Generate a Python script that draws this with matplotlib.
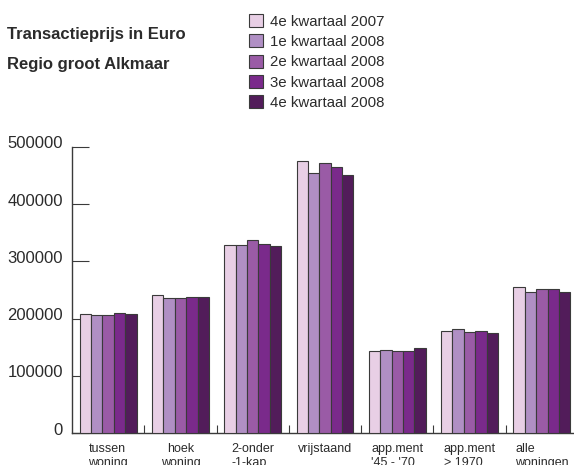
import matplotlib
matplotlib.use("Agg")
import matplotlib.pyplot as plt
import matplotlib.transforms as mtransforms
from matplotlib.patches import Patch

plt.rcParams['font.family'] = ['Liberation Sans', 'DejaVu Sans']

categories = ["tussen\nwoning", "hoek\nwoning", "2-onder\n-1-kap", "vrijstaand",
              "app.ment\n'45 - '70", "app.ment\n> 1970", "alle\nwoningen"]
periods = ["4e kwartaal 2007", "1e kwartaal 2008", "2e kwartaal 2008",
           "3e kwartaal 2008", "4e kwartaal 2008"]

q4_2007 = [207400, 241800, 328300, 476000, 143100, 177600, 254700]
q1_2008 = [205600, 236000, 328300, 454400, 144300, 181100, 247100]
q2_2008 = [205600, 236000, 337000, 471400, 143700, 177000, 251200]
q3_2008 = [210300, 237700, 330000, 465000, 143700, 177600, 251200]
q4_2008 = [208500, 237100, 327100, 450900, 147800, 174600, 246500]
series = [q4_2007, q1_2008, q2_2008, q3_2008, q4_2008]

colors = ["#e8cfe5", "#b08fc4", "#9a5ba6", "#7a2a8b", "#521c5a"]
edge = "#3a3a3a"
text_col = "#2b2b2b"

fig = plt.figure(figsize=(5.74, 4.65), dpi=100)
ax = fig.add_axes([72 / 574, 1 - 433 / 465, 506 / 574, 286 / 465])

bw = 0.1577
for i, vals in enumerate(series):
    xs = [g + 0.5 + (i - 2) * bw for g in range(len(categories))]
    ax.bar(xs, vals, width=bw, color=colors[i], edgecolor=edge, linewidth=0.8, zorder=3)

ax.set_xlim(0, 7)
ax.set_ylim(0, 500000)
ax.set_axisbelow(True)

ax.set_yticks([0, 100000, 200000, 300000, 400000, 500000])
ax.set_yticklabels(["0", "100000", "200000", "300000", "400000", "500000"])
ax.tick_params(axis='y', direction='in', length=12, width=0.8, color=edge,
               labelsize=12, labelcolor=text_col, pad=6.5)
# labels sit a little above their tick in the original
lift = mtransforms.ScaledTranslation(0, 3 / 100, fig.dpi_scale_trans)
for lbl in ax.get_yticklabels():
    lbl.set_verticalalignment('center')
    lbl.set_transform(lbl.get_transform() + lift)

ax.set_xticks([g + 0.5 for g in range(len(categories))])
ax.set_xticklabels(categories)
ax.set_xticks(range(1, 7), minor=True)
ax.tick_params(axis='x', which='major', length=0, labelsize=9, labelcolor=text_col, pad=7)
ax.tick_params(axis='x', which='minor', direction='in', length=6, width=0.8, color=edge)
for lbl in ax.get_xticklabels():
    lbl.set_multialignment('left')
ax.get_xticklabels()[1].set_multialignment('center')

for s in ['top', 'right']:
    ax.spines[s].set_visible(False)
for s in ['left', 'bottom']:
    ax.spines[s].set_color(edge)
    ax.spines[s].set_linewidth(1.0)

fig.text(7 / 574, 1 - 34 / 465, "Transactieprijs in Euro", fontsize=12, fontweight='bold',
         color=text_col, va='center', ha='left')
fig.text(7 / 574, 1 - 65 / 465, "Regio groot Alkmaar", fontsize=12, fontweight='bold',
         color=text_col, va='center', ha='left')

handles = [Patch(facecolor=c, edgecolor=edge, linewidth=0.8) for c in colors]
fig.legend(handles, periods, loc='upper left', bbox_to_anchor=(240 / 574, 1 - 5 / 465),
           frameon=False, fontsize=10.8, handlelength=0.95, handleheight=0.95,
           handletextpad=0.45, labelspacing=0.38, borderpad=0.1, labelcolor=text_col)

fig.savefig("out.png", dpi=100)
